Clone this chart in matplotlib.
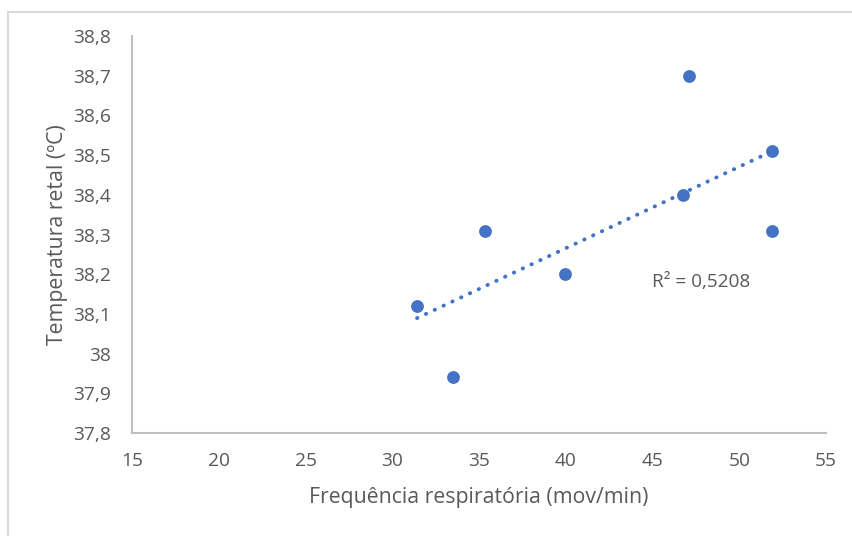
import numpy as np
import matplotlib
matplotlib.use("Agg")
import matplotlib.pyplot as plt
from matplotlib.lines import Line2D

plt.rcParams['font.family'] = ['Open Sans', 'DejaVu Sans']

freq = [31.43, 33.52, 35.35, 39.96, 46.78, 47.09, 51.87, 51.87]
temp = [38.12, 37.94, 38.31, 38.20, 38.40, 38.70, 38.51, 38.31]
x_ticks = [15, 20, 25, 30, 35, 40, 45, 50, 55]
y_ticks = [37.8, 37.9, 38.0, 38.1, 38.2, 38.3, 38.4, 38.5, 38.6, 38.7, 38.8]
y_tick_labels = ["37,8", "37,9", "38", "38,1", "38,2", "38,3", "38,4", "38,5", "38,6", "38,7", "38,8"]
x_label = "Frequência respiratória (mov/min)"
y_label = "Temperatura retal (ºC)"
r2_text = "R² = 0,5208"

blue = "#4472C4"
grey_text = "#595959"
grey_axis = "#BFBFBF"

fig = plt.figure(figsize=(8.52, 5.36), dpi=100)
ax = fig.add_axes([132/852, 1-433/536, (826-132)/852, (433-36)/536])

# chart border (left and top visible in the crop)
fig.add_artist(Line2D([8/852, 8/852], [0, 1-12/536], transform=fig.transFigure, color="#D9D9D9", lw=1.5))
fig.add_artist(Line2D([8/852, 1], [1-12/536, 1-12/536], transform=fig.transFigure, color="#D9D9D9", lw=1.5))

# trendline
coef = np.polyfit(freq, temp, 1)
xs = np.array([min(freq), max(freq)])
ax.plot(xs, np.polyval(coef, xs), color=blue, lw=2.8, linestyle=(0, (0.1, 2.4)),
        dash_capstyle='round', zorder=2)

ax.scatter(freq, temp, s=85, color=blue, zorder=3, linewidths=0)

ax.text(44.95, 38.18, r2_text, fontsize=13.7, color=grey_text, va='center', ha='left')

ax.set_xlim(15, 55)
ax.set_ylim(37.8, 38.8)
ax.set_xticks(x_ticks)
ax.set_xticklabels([str(v) for v in x_ticks])
ax.set_yticks(y_ticks)
ax.set_yticklabels(y_tick_labels)
ax.tick_params(axis='both', length=0, labelsize=13.8, colors=grey_text)
ax.tick_params(axis='y', pad=15)
ax.tick_params(axis='x', pad=14)

for s in ['top', 'right']:
    ax.spines[s].set_visible(False)
for s in ['left', 'bottom']:
    ax.spines[s].set_color(grey_axis)
    ax.spines[s].set_linewidth(1.5)

ax.set_xlabel(x_label, fontsize=15.3, color=grey_text, labelpad=12)
ax.set_ylabel(y_label, fontsize=15.3, color=grey_text, labelpad=4)

fig.savefig("out.png", dpi=100)
